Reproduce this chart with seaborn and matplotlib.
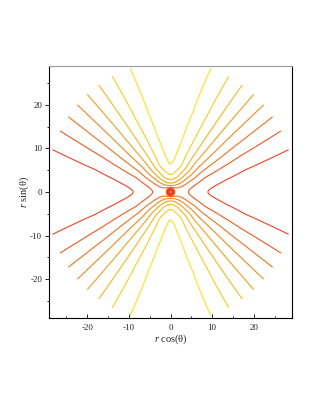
import numpy as np
import matplotlib
matplotlib.use("Agg")
import matplotlib.pyplot as plt
import seaborn as sns

# 8 contour levels, yellow (lowest) -> red (highest)
levels = [-7, -5, -3, -1, 1, 3, 5, 7]

r_y = [0, 0.45, 0.8, 1.07, 1.5, 2.05, 2.85, 4.0, 6.45, 9, 10.3, 13.7, 18.9, 25, 30]
f_y = [8.6, 7, 5, 3, 1, -1, -3, -5, -7, -7.4, -7.55, -7.9, -8.3, -8.6, -8.86]

# ... and along the r*cos(theta) axis
r_x = [0, 0.48, 0.85, 1.3, 2.0, 3.0, 4.3, 6.45, 9, 10.3, 13.7, 18.9, 25, 30]
f_x = [8.6, 7, 5, 4.4, 4.1, 4.3, 5, 6.0, 7, 7.18, 7.66, 8.24, 8.6, 8.86]

sns.set_style("white")
plt.rcParams["font.family"] = ["Liberation Serif", "DejaVu Serif"]
plt.rcParams["mathtext.fontset"] = "custom"
plt.rcParams["mathtext.rm"] = "Liberation Serif"
plt.rcParams["mathtext.it"] = "Liberation Serif:italic"

# polar grid r = 0..30
r = np.linspace(0, 30, 601)
R, T = np.meshgrid(r, np.linspace(0, 2 * np.pi, 1441))
FX = np.interp(R, r_x, f_x)
FY = np.interp(R, r_y, f_y)
F = FX * np.cos(T) ** 2 + FY * np.sin(T) ** 2
X = R * np.cos(T)
Y = R * np.sin(T)

W, H = 316, 409
fig = plt.figure(figsize=(W / 100, H / 100), dpi=100)
ax = fig.add_axes([49 / W, 1 - 318 / H, (292 - 49) / W, (318 - 66) / H])

colors = sns.blend_palette(["#ffe400", "#ff3414"], n_colors=len(levels))
ax.contour(X, Y, F, levels=levels, colors=colors, linewidths=0.75)

# the small closed loops round the peak at the origin come out as a heavy dot
k = np.searchsorted(r, 1.2)
ax.contour(X[:, :k], Y[:, :k], F[:, :k], levels=levels[-2:],
           colors=colors[-2:], linewidths=1.7)

ax.set_xlim(-29.2, 29.2)
ax.set_ylim(-28.9, 28.9)

ax.set_xticks([-20, -10, 0, 10, 20])
ax.set_xticks([-25, -15, -5, 5, 15, 25], minor=True)
ax.set_yticks([-20, -10, 0, 10, 20])
ax.set_yticks([-25, -15, -5, 5, 15, 25], minor=True)
ax.set_xticklabels(["-20", "-10", "0", "10", "20"])
ax.set_yticklabels(["-20", "-10", "0", "10", "20"])
ax.tick_params(axis="x", which="both", direction="in", bottom=True, top=False,
               labelsize=6.5, pad=4, width=0.7)
ax.tick_params(axis="y", which="both", direction="out", left=True, right=False,
               labelsize=6.5, pad=2, width=0.7)
ax.tick_params(which="major", length=3)
ax.tick_params(which="minor", length=1.8)

for side in ["left", "bottom", "right"]:
    ax.spines[side].set_color("black")
    ax.spines[side].set_linewidth(0.8)
ax.spines["top"].set_color("#9a9a9a")
ax.spines["top"].set_linewidth(0.8)

fig.text(171 / W, 1 - 339 / H, r"$r$ cos(θ)", ha="center", va="center", fontsize=7.5)
fig.text(24 / W, 1 - 192 / H, r"$r$ sin(θ)", ha="center", va="center",
         fontsize=7.5, rotation=90)

fig.savefig("out.png", dpi=100)
